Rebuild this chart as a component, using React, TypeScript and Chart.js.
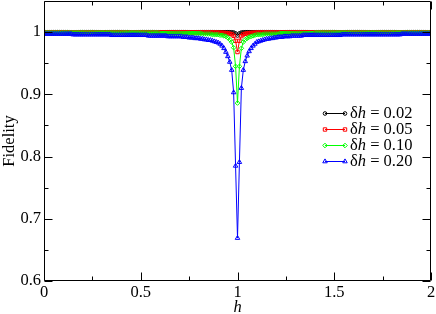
import React, { useEffect, useRef } from "react";
import { Chart, registerables } from "chart.js";
import { drawPoint } from "chart.js/helpers";

Chart.register(...registerables);

// Field values h
const H = [
  0, 0.01, 0.02, 0.03, 0.04, 0.05, 0.06, 0.07, 0.08, 0.09,
  0.1, 0.11, 0.12, 0.13, 0.14, 0.15, 0.16, 0.17, 0.18, 0.19,
  0.2, 0.21, 0.22, 0.23, 0.24, 0.25, 0.26, 0.27, 0.28, 0.29,
  0.3, 0.31, 0.32, 0.33, 0.34, 0.35, 0.36, 0.37, 0.38, 0.39,
  0.4, 0.41, 0.42, 0.43, 0.44, 0.45, 0.46, 0.47, 0.48, 0.49,
  0.5, 0.51, 0.52, 0.53, 0.54, 0.55, 0.56, 0.57, 0.58, 0.59,
  0.6, 0.61, 0.62, 0.63, 0.64, 0.65, 0.66, 0.67, 0.68, 0.69,
  0.7, 0.71, 0.72, 0.73, 0.74, 0.75, 0.76, 0.77, 0.78, 0.79,
  0.8, 0.81, 0.82, 0.83, 0.84, 0.85, 0.86, 0.87, 0.88, 0.89,
  0.9, 0.91, 0.92, 0.93, 0.94, 0.95, 0.96, 0.97, 0.98, 0.99,
  1.0, 1.01, 1.02, 1.03, 1.04, 1.05, 1.06, 1.07, 1.08, 1.09,
  1.1, 1.11, 1.12, 1.13, 1.14, 1.15, 1.16, 1.17, 1.18, 1.19,
  1.2, 1.21, 1.22, 1.23, 1.24, 1.25, 1.26, 1.27, 1.28, 1.29,
  1.3, 1.31, 1.32, 1.33, 1.34, 1.35, 1.36, 1.37, 1.38, 1.39,
  1.4, 1.41, 1.42, 1.43, 1.44, 1.45, 1.46, 1.47, 1.48, 1.49,
  1.5, 1.51, 1.52, 1.53, 1.54, 1.55, 1.56, 1.57, 1.58, 1.59,
  1.6, 1.61, 1.62, 1.63, 1.64, 1.65, 1.66, 1.67, 1.68, 1.69,
  1.7, 1.71, 1.72, 1.73, 1.74, 1.75, 1.76, 1.77, 1.78, 1.79,
  1.8, 1.81, 1.82, 1.83, 1.84, 1.85, 1.86, 1.87, 1.88, 1.89,
  1.9, 1.91, 1.92, 1.93, 1.94, 1.95, 1.96, 1.97, 1.98, 1.99,
  2.0,
];

// Fidelity, δh = 0.02
const F_DH002 = [
  0.9999, 0.9999, 0.9999, 0.9999, 0.9999, 0.9999, 0.9999, 0.9999, 0.9999, 0.9999,
  0.9999, 0.9999, 0.9999, 0.9999, 0.9999, 0.9999, 0.9999, 0.9999, 0.9999, 0.9999,
  0.9999, 0.9999, 0.9999, 0.9999, 0.9999, 0.9999, 0.9999, 0.9999, 0.9999, 0.9999,
  0.9999, 0.9999, 0.9999, 0.9999, 0.9999, 0.9999, 0.9999, 0.9999, 0.9999, 0.9999,
  0.9999, 0.9999, 0.9999, 0.9999, 0.9999, 0.9999, 0.9999, 0.9999, 0.9999, 0.9999,
  0.9999, 0.9999, 0.9999, 0.9999, 0.9999, 0.9999, 0.9999, 0.9999, 0.9999, 0.9999,
  0.9999, 0.9999, 0.9999, 0.9999, 0.9999, 0.9999, 0.9999, 0.9999, 0.9999, 0.9999,
  0.9999, 0.9999, 0.9999, 0.9999, 0.9999, 0.9999, 0.9999, 0.9999, 0.9999, 0.9999,
  0.9999, 0.9999, 0.9999, 0.9999, 0.9999, 0.9999, 0.9999, 0.9999, 0.9999, 0.9999,
  0.9999, 0.9999, 0.9999, 0.9999, 0.9999, 0.9999, 0.9998, 0.9997, 0.9994, 0.998,
  0.9945, 0.998, 0.9993, 0.9997, 0.9998, 0.9999, 0.9999, 0.9999, 0.9999, 0.9999,
  0.9999, 0.9999, 0.9999, 0.9999, 0.9999, 0.9999, 0.9999, 0.9999, 0.9999, 0.9999,
  0.9999, 0.9999, 0.9999, 0.9999, 0.9999, 0.9999, 0.9999, 0.9999, 0.9999, 0.9999,
  0.9999, 0.9999, 0.9999, 0.9999, 0.9999, 0.9999, 0.9999, 0.9999, 0.9999, 0.9999,
  0.9999, 0.9999, 0.9999, 0.9999, 0.9999, 0.9999, 0.9999, 0.9999, 0.9999, 0.9999,
  0.9999, 0.9999, 0.9999, 0.9999, 0.9999, 0.9999, 0.9999, 0.9999, 0.9999, 0.9999,
  0.9999, 0.9999, 0.9999, 0.9999, 0.9999, 0.9999, 0.9999, 0.9999, 0.9999, 0.9999,
  0.9999, 0.9999, 0.9999, 0.9999, 0.9999, 0.9999, 0.9999, 0.9999, 0.9999, 0.9999,
  0.9999, 0.9999, 0.9999, 0.9999, 0.9999, 0.9999, 0.9999, 0.9999, 0.9999, 0.9999,
  0.9999, 0.9999, 0.9999, 0.9999, 0.9999, 0.9999, 0.9999, 0.9999, 0.9999, 0.9999,
  0.9999,
];

// Fidelity, δh = 0.05
const F_DH005 = [
  0.9997, 0.9997, 0.9997, 0.9997, 0.9997, 0.9997, 0.9997, 0.9997, 0.9997, 0.9997,
  0.9997, 0.9997, 0.9997, 0.9997, 0.9997, 0.9997, 0.9997, 0.9997, 0.9997, 0.9997,
  0.9997, 0.9997, 0.9997, 0.9997, 0.9997, 0.9997, 0.9997, 0.9997, 0.9997, 0.9997,
  0.9997, 0.9997, 0.9997, 0.9997, 0.9997, 0.9997, 0.9997, 0.9997, 0.9997, 0.9997,
  0.9997, 0.9997, 0.9997, 0.9997, 0.9997, 0.9997, 0.9997, 0.9997, 0.9997, 0.9997,
  0.9997, 0.9997, 0.9997, 0.9997, 0.9997, 0.9997, 0.9997, 0.9997, 0.9997, 0.9997,
  0.9997, 0.9997, 0.9997, 0.9997, 0.9997, 0.9997, 0.9997, 0.9997, 0.9997, 0.9997,
  0.9996, 0.9996, 0.9996, 0.9996, 0.9996, 0.9996, 0.9996, 0.9996, 0.9996, 0.9996,
  0.9995, 0.9995, 0.9995, 0.9995, 0.9995, 0.9994, 0.9994, 0.9994, 0.9994, 0.9994,
  0.9992, 0.9991, 0.999, 0.9988, 0.9985, 0.998, 0.9975, 0.9965, 0.994, 0.986,
  0.968, 0.986, 0.9935, 0.9962, 0.9973, 0.998, 0.9984, 0.9987, 0.9989, 0.9991,
  0.9992, 0.9993, 0.9993, 0.9993, 0.9993, 0.9993, 0.9994, 0.9994, 0.9994, 0.9994,
  0.9994, 0.9995, 0.9995, 0.9995, 0.9995, 0.9995, 0.9996, 0.9996, 0.9996, 0.9996,
  0.9997, 0.9997, 0.9997, 0.9997, 0.9997, 0.9997, 0.9997, 0.9997, 0.9997, 0.9997,
  0.9997, 0.9997, 0.9997, 0.9997, 0.9997, 0.9997, 0.9997, 0.9997, 0.9997, 0.9997,
  0.9997, 0.9997, 0.9997, 0.9997, 0.9997, 0.9997, 0.9997, 0.9997, 0.9997, 0.9997,
  0.9997, 0.9997, 0.9997, 0.9997, 0.9997, 0.9997, 0.9997, 0.9997, 0.9997, 0.9997,
  0.9997, 0.9997, 0.9997, 0.9997, 0.9997, 0.9997, 0.9997, 0.9997, 0.9997, 0.9997,
  0.9997, 0.9997, 0.9997, 0.9997, 0.9997, 0.9997, 0.9997, 0.9997, 0.9997, 0.9997,
  0.9997, 0.9997, 0.9997, 0.9997, 0.9997, 0.9997, 0.9997, 0.9997, 0.9997, 0.9997,
  0.9997,
];

// Fidelity, δh = 0.10
const F_DH010 = [
  0.999, 0.999, 0.999, 0.999, 0.999, 0.999, 0.999, 0.999, 0.999, 0.999,
  0.999, 0.999, 0.999, 0.999, 0.999, 0.999, 0.999, 0.999, 0.999, 0.999,
  0.999, 0.999, 0.999, 0.999, 0.999, 0.999, 0.999, 0.999, 0.999, 0.999,
  0.999, 0.999, 0.999, 0.999, 0.999, 0.999, 0.999, 0.999, 0.999, 0.999,
  0.999, 0.999, 0.999, 0.999, 0.999, 0.999, 0.999, 0.999, 0.999, 0.999,
  0.999, 0.999, 0.999, 0.999, 0.999, 0.999, 0.999, 0.999, 0.999, 0.999,
  0.998, 0.998, 0.998, 0.998, 0.998, 0.998, 0.998, 0.998, 0.998, 0.998,
  0.998, 0.998, 0.998, 0.998, 0.998, 0.998, 0.998, 0.998, 0.998, 0.998,
  0.998, 0.998, 0.997, 0.997, 0.997, 0.997, 0.997, 0.996, 0.996, 0.996,
  0.996, 0.995, 0.995, 0.994, 0.993, 0.991, 0.988, 0.984, 0.975, 0.945,
  0.886, 0.945, 0.974, 0.984, 0.988, 0.99, 0.992, 0.993, 0.994, 0.995,
  0.996, 0.996, 0.996, 0.996, 0.997, 0.997, 0.997, 0.997, 0.997, 0.997,
  0.997, 0.997, 0.998, 0.998, 0.998, 0.998, 0.998, 0.998, 0.998, 0.998,
  0.998, 0.998, 0.998, 0.998, 0.998, 0.998, 0.998, 0.998, 0.998, 0.998,
  0.999, 0.999, 0.999, 0.999, 0.999, 0.999, 0.999, 0.999, 0.999, 0.999,
  0.999, 0.999, 0.999, 0.999, 0.999, 0.999, 0.999, 0.999, 0.999, 0.999,
  0.999, 0.999, 0.999, 0.999, 0.999, 0.999, 0.999, 0.999, 0.999, 0.999,
  0.999, 0.999, 0.999, 0.999, 0.999, 0.999, 0.999, 0.999, 0.999, 0.999,
  0.999, 0.999, 0.999, 0.999, 0.999, 0.999, 0.999, 0.999, 0.999, 0.999,
  0.999, 0.999, 0.999, 0.999, 0.999, 0.999, 0.999, 0.999, 0.999, 0.999,
  0.999,
];

// Fidelity, δh = 0.20
const F_DH020 = [
  0.997, 0.997, 0.997, 0.997, 0.997, 0.997, 0.997, 0.997, 0.997, 0.997,
  0.997, 0.997, 0.997, 0.997, 0.997, 0.996, 0.996, 0.996, 0.996, 0.996,
  0.996, 0.996, 0.996, 0.996, 0.996, 0.996, 0.996, 0.996, 0.996, 0.996,
  0.996, 0.996, 0.996, 0.996, 0.996, 0.995, 0.995, 0.995, 0.995, 0.995,
  0.995, 0.995, 0.995, 0.995, 0.995, 0.995, 0.995, 0.995, 0.995, 0.995,
  0.995, 0.995, 0.995, 0.995, 0.994, 0.994, 0.994, 0.994, 0.994, 0.994,
  0.994, 0.994, 0.994, 0.994, 0.993, 0.993, 0.993, 0.993, 0.993, 0.993,
  0.993, 0.993, 0.992, 0.992, 0.992, 0.991, 0.991, 0.991, 0.99, 0.99,
  0.99, 0.989, 0.989, 0.988, 0.988, 0.987, 0.987, 0.986, 0.985, 0.984,
  0.983, 0.981, 0.978, 0.974, 0.968, 0.961, 0.952, 0.939, 0.903, 0.785,
  0.669, 0.791, 0.91, 0.939, 0.953, 0.962, 0.969, 0.974, 0.978, 0.981,
  0.984, 0.985, 0.986, 0.987, 0.988, 0.989, 0.989, 0.99, 0.99, 0.991,
  0.991, 0.992, 0.992, 0.992, 0.993, 0.993, 0.993, 0.993, 0.994, 0.994,
  0.994, 0.994, 0.994, 0.994, 0.995, 0.995, 0.995, 0.995, 0.995, 0.995,
  0.995, 0.995, 0.995, 0.995, 0.995, 0.995, 0.995, 0.995, 0.995, 0.995,
  0.995, 0.995, 0.995, 0.995, 0.996, 0.996, 0.996, 0.996, 0.996, 0.996,
  0.996, 0.996, 0.996, 0.996, 0.996, 0.996, 0.996, 0.996, 0.996, 0.996,
  0.996, 0.996, 0.996, 0.996, 0.996, 0.996, 0.996, 0.996, 0.996, 0.996,
  0.996, 0.996, 0.996, 0.996, 0.996, 0.997, 0.997, 0.997, 0.997, 0.997,
  0.997, 0.997, 0.997, 0.997, 0.997, 0.997, 0.997, 0.997, 0.997, 0.997,
  0.997,
];

const SERIES_VALUES = [F_DH002, F_DH005, F_DH010, F_DH020];
const SERIES_DH = ["0.02", "0.05", "0.10", "0.20"];
const SERIES_COLORS = ["#000000", "#ff0000", "#00ff00", "#0000ff"];
const SERIES_MARKERS = ["circle", "rect", "rectRot", "triangle"];
const MARKER_RADII = [1.8, 2.4, 2.3, 2.6];

const X_MAJOR = [0, 0.5, 1, 1.5, 2];
const X_MINOR = [0.25, 0.75, 1.25, 1.75];
const X_TICK_LABELS = ["0", "0.5", "1", "1.5", "2"];
const Y_MAJOR = [0.6, 0.7, 0.8, 0.9, 1.0];
const Y_MINOR = [0.65, 0.75, 0.85, 0.95];
const Y_TICK_LABELS = ["0.6", "0.7", "0.8", "0.9", "1"];

const FONT_FAMILY = "'Liberation Serif', 'Times New Roman', serif";
const FONT_SIZE = 16.5;

const frameAndLegend = {
  id: "frameAndLegend",
  afterDraw(chart: any) {
    const { ctx, chartArea } = chart;
    const { left, right, top, bottom } = chartArea;
    const xs = chart.scales.x;
    const ys = chart.scales.y;
    ctx.save();
    ctx.strokeStyle = "#000";
    ctx.lineWidth = 1;
    const L = Math.round(left) + 0.5;
    const R = Math.round(right) - 0.5;
    const T = Math.round(top) + 0.5;
    const B = Math.round(bottom) - 0.5;
    ctx.beginPath();
    ctx.rect(L, T, R - L, B - T);
    ctx.stroke();
    const MAJ = 8;
    const MIN = 4;
    ctx.beginPath();
    const xTick = (v: number, len: number) => {
      const px = Math.round(xs.getPixelForValue(v)) + 0.5;
      ctx.moveTo(px, B);
      ctx.lineTo(px, B - len);
      ctx.moveTo(px, T);
      ctx.lineTo(px, T + len);
    };
    const yTick = (v: number, len: number) => {
      const py = Math.round(ys.getPixelForValue(v)) + 0.5;
      ctx.moveTo(L, py);
      ctx.lineTo(L + len, py);
      ctx.moveTo(R, py);
      ctx.lineTo(R - len, py);
    };
    X_MAJOR.forEach((v) => xTick(v, MAJ));
    X_MINOR.forEach((v) => xTick(v, MIN));
    Y_MAJOR.forEach((v) => yTick(v, MAJ));
    Y_MINOR.forEach((v) => yTick(v, MIN));
    ctx.stroke();

    // legend
    const lx0 = 325;
    const lx1 = 345;
    const tx = 350;
    const rowY = [113, 129, 145, 161];
    SERIES_DH.forEach((dh, i) => {
      const y = rowY[i];
      ctx.strokeStyle = SERIES_COLORS[i];
      ctx.lineWidth = 1;
      ctx.beginPath();
      ctx.moveTo(lx0, y + 0.5);
      ctx.lineTo(lx1, y + 0.5);
      ctx.stroke();
      ctx.fillStyle = "rgba(255,255,255,0)";
      const opts = {
        pointStyle: SERIES_MARKERS[i],
        radius: MARKER_RADII[i],
        rotation: 0,
        borderWidth: 1,
      };
      drawPoint(ctx, opts as any, lx0, y + 0.5);
      drawPoint(ctx, opts as any, lx1, y + 0.5);
      ctx.fillStyle = "#000";
      ctx.textBaseline = "middle";
      ctx.textAlign = "left";
      let x = tx;
      ctx.font = `${FONT_SIZE}px ${FONT_FAMILY}`;
      ctx.fillText("δ", x, y + 1);
      x += ctx.measureText("δ").width;
      ctx.font = `italic ${FONT_SIZE}px ${FONT_FAMILY}`;
      ctx.fillText("h", x, y + 1);
      x += ctx.measureText("h").width;
      ctx.font = `${FONT_SIZE}px ${FONT_FAMILY}`;
      ctx.fillText(" = " + dh, x, y + 1);
    });
    ctx.restore();
  },
};

export default function App() {
  const ref = useRef<HTMLCanvasElement | null>(null);
  useEffect(() => {
    if (!ref.current) return;
    const datasets = SERIES_VALUES.map((vals, i) => ({
      label: "δh = " + SERIES_DH[i],
      data: H.map((h, j) => ({ x: h, y: vals[j] })),
      borderColor: SERIES_COLORS[i],
      backgroundColor: "rgba(255,255,255,0)",
      borderWidth: 1,
      pointStyle: SERIES_MARKERS[i],
      pointRadius: MARKER_RADII[i],
      pointBorderWidth: 1,
      pointBorderColor: SERIES_COLORS[i],
      pointBackgroundColor: "rgba(255,255,255,0)",
      tension: 0,
      fill: false,
      order: 3 - i,
    }));
    const chart = new Chart(ref.current, {
      type: "line",
      data: { datasets },
      options: {
        responsive: false,
        animation: false,
        devicePixelRatio: 1,
        layout: { autoPadding: false, padding: { top: 1, right: 5, left: 0, bottom: 0 } },
        plugins: {
          legend: { display: false },
          tooltip: { enabled: false },
        },
        scales: {
          x: {
            type: "linear",
            min: 0,
            max: 2,
            grid: { display: false, drawTicks: false },
            border: { display: false },
            afterBuildTicks: (scale: any) => {
              scale.ticks = X_MAJOR.map((v) => ({ value: v }));
            },
            afterFit: (scale: any) => {
              scale.height = 33;
              scale.paddingLeft = 0;
              scale.paddingRight = 0;
              scale.paddingTop = 0;
              scale.paddingBottom = 0;
            },
            ticks: {
              autoSkip: false,
              maxRotation: 0,
              padding: 2,
              color: "#000",
              font: { family: FONT_FAMILY, size: FONT_SIZE },
              callback: (v: any) => X_TICK_LABELS[X_MAJOR.indexOf(Number(v))] ?? "",
            },
            title: {
              display: true,
              text: "h",
              color: "#000",
              padding: { top: 0, bottom: -4 },
              font: { family: FONT_FAMILY, size: FONT_SIZE, style: "italic" },
            },
          },
          y: {
            type: "linear",
            min: 0.6,
            max: 1.05,
            grid: { display: false, drawTicks: false },
            border: { display: false },
            afterBuildTicks: (scale: any) => {
              scale.ticks = Y_MAJOR.map((v) => ({ value: v }));
            },
            afterFit: (scale: any) => {
              scale.width = 44;
              scale.paddingLeft = 0;
              scale.paddingRight = 0;
              scale.paddingTop = 0;
              scale.paddingBottom = 0;
            },
            ticks: {
              autoSkip: false,
              padding: 3,
              color: "#000",
              font: { family: FONT_FAMILY, size: FONT_SIZE },
              callback: (v: any) => Y_TICK_LABELS[Y_MAJOR.indexOf(Number(v))] ?? "",
            },
            title: {
              display: true,
              text: "Fidelity",
              color: "#000",
              padding: { top: 0, bottom: 0 },
              font: { family: FONT_FAMILY, size: FONT_SIZE },
            },
          },
        },
      },
      plugins: [frameAndLegend],
    });
    return () => chart.destroy();
  }, []);
  return (
    <div style={{ position: "fixed", left: 0, top: 0, width: 436, height: 314, background: "#fff" }}>
      <canvas ref={ref} width={436} height={314} style={{ display: "block" }} />
    </div>
  );
}
